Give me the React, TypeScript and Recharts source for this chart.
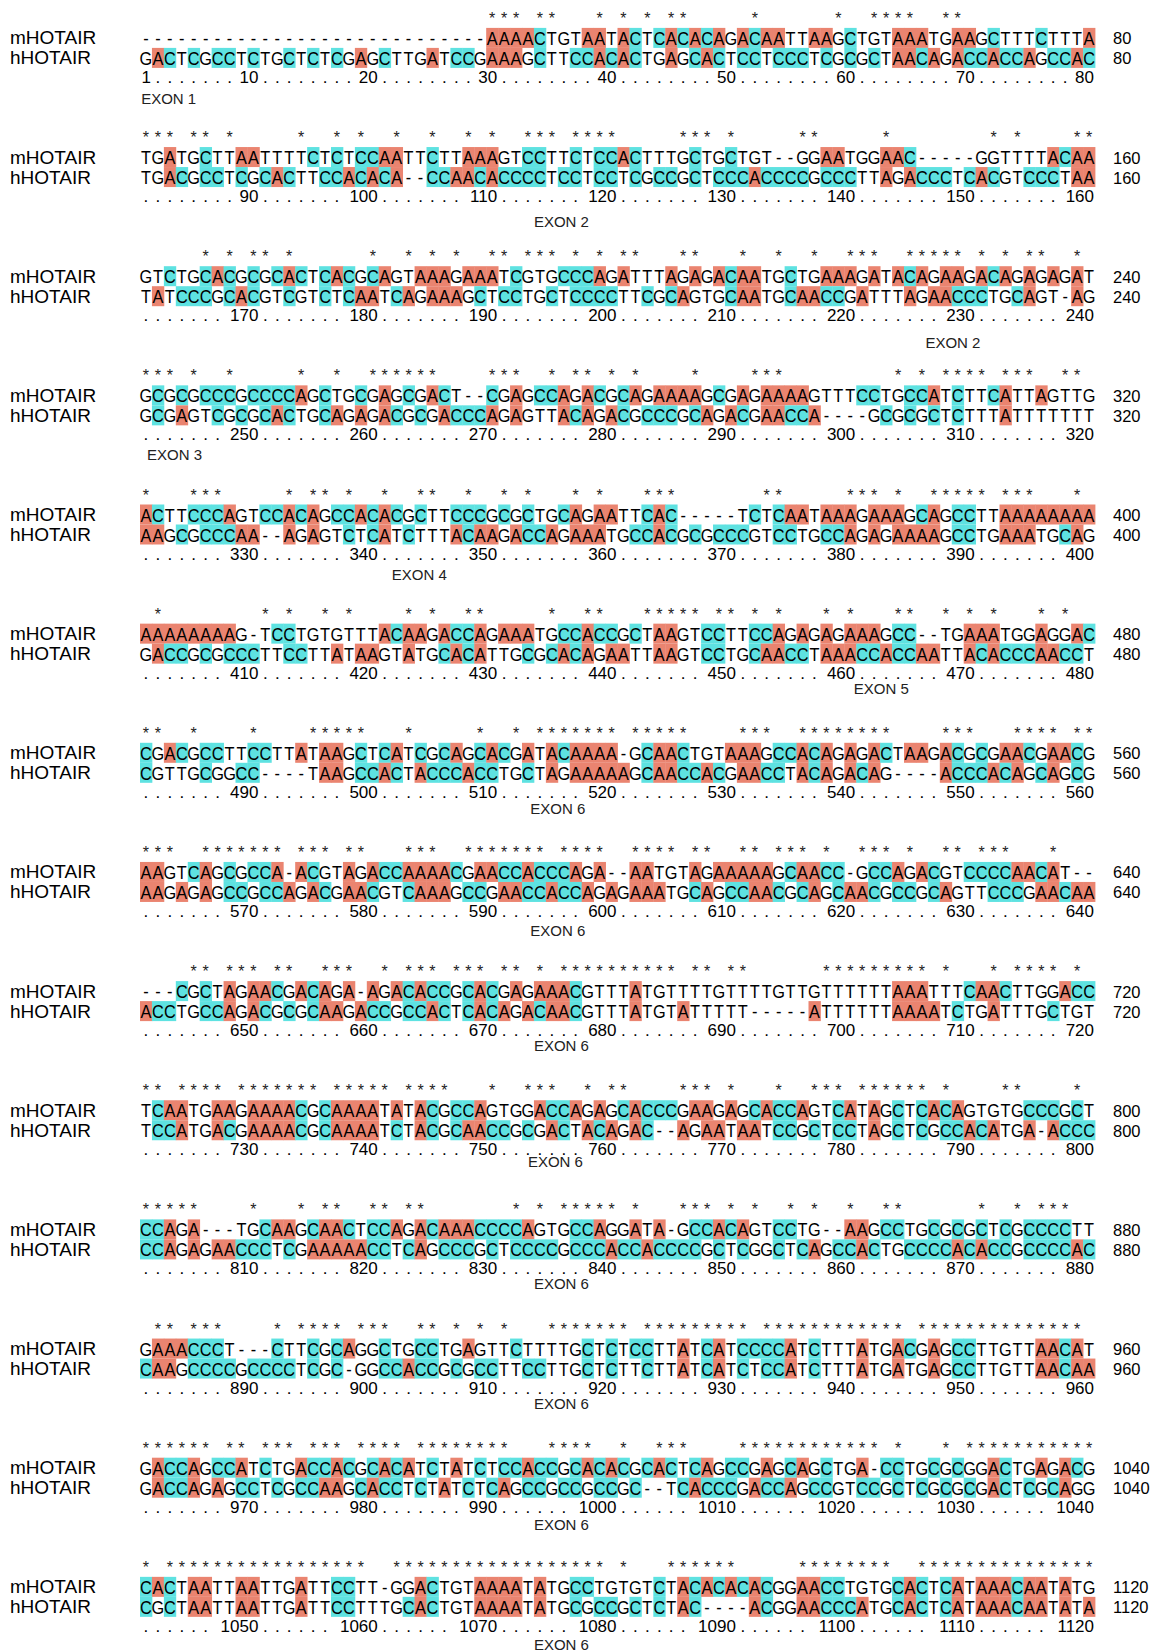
import React from 'react';
import { ScatterChart, Scatter, XAxis, YAxis } from 'recharts';

// alignment rows, 80 columns per block
const M_SEQ = [
  '-----------------------------AAAACTGTAATACTCACACAGACAATTAAGCTGTAAATGAAGCTTTCTTTA',
  'TGATGCTTAATTTTCTCTCCAATTCTTAAAGTCCTTCTCCACTTTGCTGCTGT--GGAATGGAAC-----GGTTTTACAA',
  'GTCTGCACGCGCACTCACGCAGTAAAGAAATCGTGCCCAGATTTAGAGACAATGCTGAAAGATACAGAAGACAGAGAGAT',
  'GCGCGCCCGCCCCAGCTGCGAGCGACT--CGAGCCAGACGCAGAAAAGCGAGAAAAGTTTCCTGCCATCTTCATTAGTTG',
  'ACTTCCCAGTCCACAGCCACACGCTTCCCGCGCTGCAGAATTCAC-----TCTCAATAAAGAAAGCAGCCTTAAAAAAAA',
  'AAAAAAAAG-TCCTGTGTTTACAAGACCAGAAATGCCACCGCTAAGTCCTTCCAGAGAGAAAGCC--TGAAATGGAGGAC',
  'CGACGCCTTCCTTATAAGCTCATCGCAGCACGATACAAAA-GCAACTGTAAAGCCACAGAGACTAAGACGCGAACGAACG',
  'AAGTCAGCGCCA-ACGTAGACCAAAACGAACCACCCAGA--AATGTAGAAAAAGCAACC-GCCAGACGTCCCCAACAT--',
  '---CGCTAGAACGACAGA-AGACACCGCACGAGAAACGTTTATGTTTTGTTTTGTTGTTTTTTAAATTTCAACTTGGACC',
  'TCAATGAAGAAAACGCAAAATATACGCCAGTGGACCAGAGCACCCGAAGAGCACCAGTCATAGCTCACAGTGTGCCCGCT',
  'CCAGA---TGCAAGCAACTCCAGACAAACCCCAGTGCCAGGATA-GCCACAGTCCTG--AAGCCTGCGCGCTCGCCCCTT',
  'GAAACCCT---CTTCGCAGGCTGCCTGAGTTCTTTTGCTCTCCTTATCATCCCCATCTTTATGACGAGCCTTGTTAACAT',
  'GACCAGCCATCTGACCACGCACATCTATCTCCACCGCACACGCACTCAGCCGAGCAGCTGA-CCTGCGCGGACTGAGACG',
  'CACTAATTAATTGATTCCTT-GGACTGTAAAATATGCCTGTGTCTACACACACGGAACCTGTGCACTCATAAACAATATG',
];

const H_SEQ = [
  'GACTCGCCTCTGCTCTCGAGCTTGATCCGAAAGCTTCCACACTGAGCACTCCTCCCTCGCGCTAACAGACCACCAGCCAC',
  'TGACGCCTCGCACTTCCACACA--CCAACACCCCTCCTCCTCGCCGCTCCCACCCCGCCCTTAGACCCTCACGTCCCTAA',
  'TATCCCGCACGTCGTCTCAATCAGAAAGCTCCTGCTCCCCTTCGCAGTGCAATGCAACCGATTTAGAACCCTGCAGT-AG',
  'GCGAGTCGCGCACTGCAGAGACGCGACCCAGAGTTACAGACGCCCGCAGACGAACCA----GCGCGCTCTTTATTTTTTT',
  'AAGCGCCCAA--AGAGTCTCATCTTTACAAGACCAGAAATGCCACGCGCCCGTCCTGCCAGAGAAAAGCCTGAAATGCAG',
  'GACCGCGCCCTTCCTTATAAGTATGCACATTGCGCACAGAATTAAGTCCTGCAACCTAAACCACCAATTACACCCAACCT',
  'CGTTGCGGCC----TAAGCCACTACCCACCTGCTAGAAAAAGCAACCACGAACCTACAGACAG----ACCCACAGCAGCG',
  'AAGAGAGCCGCCAGACGAACGTCAAAGCCGAACCACCAGAGAAATGCAGCCAACGCAGCAACGCCGCAGTTCCCGAACAA',
  'ACCTGCCAGACGCGCAAGACCGCCACTCACAGACAACGTTTATGTATTTTT-----ATTTTTTAAAATCTGATTTGCTGT',
  'TCCATGACGAAAACGCAAAATCTACGCAACCGCGACTACAGAC--AGAATAATCCGCTCCTAGCTCGCCACATGA-ACCC',
  'CCAGAGAACCCTCGAAAAACCTCAGCCCGCTCCCCGCCCACCACCCCGCTCGGCTCAGCCACTGCCCCACACCGCCCCAC',
  'CAAGCCCCGCCCCTCGC-GGCCACCGCGCCTTCCTTGCTCTTCTTATCATCTCCATCTTTATGATGAGCCTTGTTAACAA',
  'GACCAGAGCCTCGCCAAGCACCTCTATCTCAGCCGCCGCCGC--TCACCCGACCAGCCGTCCGCTCGCGCGACTCGCAGG',
  'CGCTAATTAATTGATTCCTTTGCACTGTAAAATATGCGCCGCTCTAC----ACGGAACCCATGCACTCATAAACAATATA',
];

// columns carrying a conservation star, per block
const STAR_COLS = [
  [30, 31, 32, 34, 35, 39, 41, 43, 45, 46, 52, 59, 62, 63, 64, 65, 68, 69],
  [1, 2, 3, 5, 6, 8, 14, 17, 19, 22, 25, 28, 30, 33, 34, 35, 37, 38, 39, 40, 46, 47, 48, 50, 56, 57, 63, 72, 74, 79, 80],
  [6, 8, 10, 11, 13, 20, 23, 25, 27, 30, 31, 33, 34, 35, 37, 39, 41, 42, 46, 47, 51, 54, 57, 60, 61, 62, 65, 66, 67, 68, 69, 71, 73, 75, 76, 79],
  [1, 2, 3, 5, 8, 14, 17, 20, 21, 22, 23, 24, 25, 30, 31, 32, 35, 37, 38, 40, 42, 47, 52, 53, 54, 64, 66, 68, 69, 70, 71, 73, 74, 75, 78, 79],
  [1, 5, 6, 7, 13, 15, 16, 18, 21, 24, 25, 28, 31, 33, 37, 39, 43, 44, 45, 53, 54, 60, 61, 62, 64, 67, 68, 69, 70, 71, 73, 74, 75, 79],
  [2, 11, 13, 16, 18, 23, 25, 28, 29, 35, 38, 39, 43, 44, 45, 46, 47, 49, 50, 52, 54, 58, 60, 64, 65, 68, 70, 72, 76, 78],
  [1, 2, 5, 10, 15, 16, 17, 18, 19, 23, 29, 32, 34, 35, 36, 37, 38, 39, 40, 42, 43, 44, 45, 46, 51, 52, 53, 56, 57, 58, 59, 60, 61, 62, 63, 68, 69, 70, 74, 75, 76, 77, 79, 80],
  [1, 2, 3, 6, 7, 8, 9, 10, 11, 12, 14, 15, 16, 18, 19, 23, 24, 25, 28, 29, 30, 31, 32, 33, 34, 36, 37, 38, 39, 42, 43, 44, 45, 47, 48, 51, 52, 54, 55, 56, 58, 61, 62, 63, 65, 68, 69, 71, 72, 73, 77],
  [5, 6, 8, 9, 10, 12, 13, 16, 17, 18, 21, 23, 24, 25, 27, 28, 29, 31, 32, 34, 36, 37, 38, 39, 40, 41, 42, 43, 44, 45, 47, 48, 50, 51, 58, 59, 60, 61, 62, 63, 64, 65, 66, 68, 72, 74, 75, 76, 77, 79],
  [1, 2, 4, 5, 6, 7, 9, 10, 11, 12, 13, 14, 15, 17, 18, 19, 20, 21, 23, 24, 25, 26, 30, 33, 34, 35, 38, 40, 41, 46, 47, 48, 50, 54, 57, 58, 59, 61, 62, 63, 64, 65, 66, 68, 73, 74, 79],
  [1, 2, 3, 4, 5, 10, 14, 16, 17, 20, 21, 23, 24, 32, 34, 36, 37, 38, 39, 40, 42, 46, 47, 48, 50, 52, 55, 57, 60, 63, 64, 71, 74, 76, 77, 78],
  [2, 3, 5, 6, 7, 12, 14, 15, 16, 17, 19, 20, 21, 24, 25, 27, 29, 31, 35, 36, 37, 38, 39, 40, 41, 43, 44, 45, 46, 47, 48, 49, 50, 51, 53, 54, 55, 56, 57, 58, 59, 60, 61, 62, 63, 64, 66, 67, 68, 69, 70, 71, 72, 73, 74, 75, 76, 77, 78, 79],
  [1, 2, 3, 4, 5, 6, 8, 9, 11, 12, 13, 15, 16, 17, 19, 20, 21, 22, 24, 25, 26, 27, 28, 29, 30, 31, 35, 36, 37, 38, 41, 44, 45, 46, 51, 52, 53, 54, 55, 56, 57, 58, 59, 60, 61, 62, 64, 68, 70, 71, 72, 73, 74, 75, 76, 77, 78, 79, 80],
  [1, 3, 4, 5, 6, 7, 8, 9, 10, 11, 12, 13, 14, 15, 16, 17, 18, 19, 22, 23, 24, 25, 26, 27, 28, 29, 30, 31, 32, 33, 34, 35, 36, 37, 38, 39, 41, 45, 46, 47, 48, 49, 50, 56, 57, 58, 59, 60, 61, 62, 63, 66, 67, 68, 69, 70, 71, 72, 73, 74, 75, 76, 77, 78, 79, 80],
];

const SEQ_NAMES = ['mHOTAIR', 'hHOTAIR'];

// exon annotations: block, label, column (centre), row below the top sequence
const EXON_BLOCK = [0, 1, 2, 3, 4, 5, 6, 7, 8, 9, 10, 11, 12, 13];
const EXON_TEXT = ['EXON 1', 'EXON 2', 'EXON 2', 'EXON 3', 'EXON 4', 'EXON 5', 'EXON 6', 'EXON 6', 'EXON 6', 'EXON 6', 'EXON 6', 'EXON 6', 'EXON 6', 'EXON 6'];
const EXON_COL = [2.9, 35.8, 68.6, 3.4, 23.9, 62.6, 35.5, 35.5, 35.8, 35.3, 35.8, 35.8, 35.8, 35.8];
const EXON_ROW = [3.05, 3.2, 3.3, 2.95, 3.0, 2.75, 2.8, 2.95, 2.7, 2.55, 2.7, 2.75, 2.85, 2.9];

const COLS = 80;
const W = 1152;
const H = 1651;
const COL_W = 11.9375;
const ROW_PX = 20;
const X_MIN = 0.5 - 140 / COL_W;
const X_MAX = X_MIN + W / COL_W;
const Y_MIN = -37.9 / ROW_PX;
const Y_MAX = Y_MIN + H / ROW_PX;
const BLOCK_ROWS = 5.9575;
const STAR_ROW = -1.15;
const RULER_ROW = 1.95;
const NAME_COL = 0.5 - 130 / COL_W;
const END_COL = 0.5 + 973 / COL_W;

const ORANGE = '#EA8470';
const CYAN = '#5EE2E1';
const FONT = '"Liberation Sans", Arial, sans-serif';

const seqPoints: any[] = [];
[M_SEQ, H_SEQ].forEach((rows, r) => {
  rows.forEach((s, b) => {
    s.padEnd(COLS, '-').slice(0, COLS).split('').forEach((ch, i) => {
      seqPoints.push({ x: i + 1, y: b * BLOCK_ROWS + r, ch });
    });
  });
});

const starPoints: any[] = [];
STAR_COLS.forEach((cols, b) => cols.forEach((c) => starPoints.push({ x: c, y: b * BLOCK_ROWS + STAR_ROW })));

const rulerPoints: any[] = [];
M_SEQ.forEach((_, b) => {
  const covered = new Set<number>();
  for (let c = 1; c <= COLS; c++) {
    const pos = b * COLS + c;
    if (pos % 10 === 0 || pos === 1) {
      const t = String(pos);
      rulerPoints.push({ x: c + 0.5, y: b * BLOCK_ROWS + RULER_ROW, t, num: true });
      for (let k = 0; k < t.length; k++) covered.add(c - k);
    }
  }
  for (let c = 1; c <= COLS; c++) {
    if (!covered.has(c)) rulerPoints.push({ x: c, y: b * BLOCK_ROWS + RULER_ROW, t: '.', num: false });
  }
});

const labelPoints: any[] = [];
M_SEQ.forEach((_, b) => {
  [0, 1].forEach((r) => {
    labelPoints.push({ x: NAME_COL, y: b * BLOCK_ROWS + r, t: SEQ_NAMES[r], size: 19 });
    labelPoints.push({ x: END_COL, y: b * BLOCK_ROWS + r, t: String((b + 1) * COLS), size: 16.5 });
  });
});

const exonPoints = EXON_BLOCK.map((b, i) => ({ x: EXON_COL[i], y: b * BLOCK_ROWS + EXON_ROW[i], t: EXON_TEXT[i] }));

const cellShape = (p: any) => {
  const ch = p.payload.ch;
  const fill = ch === 'A' ? ORANGE : ch === 'C' ? CYAN : null;
  if (!fill) return <g />;
  return <rect x={p.cx - COL_W / 2} y={p.cy - 10} width={COL_W + 0.4} height={20} fill={fill} />;
};

const letterShape = (p: any) => (
  <text
    transform={`translate(${p.cx},${p.cy + 7}) scale(0.86,1)`}
    textAnchor="middle"
    fontSize={19}
    fontFamily={FONT}
    fill="#000"
  >
    {p.payload.ch}
  </text>
);

const starShape = (p: any) => (
  <text x={p.cx} y={p.cy + 9} textAnchor="middle" fontSize={16} fontFamily={FONT} fill="#222">
    *
  </text>
);

const rulerShape = (p: any) => (
  <text
    x={p.payload.num ? p.cx - 1 : p.cx}
    y={p.cy + 6}
    textAnchor={p.payload.num ? 'end' : 'middle'}
    fontSize={17}
    fontFamily={FONT}
    fill="#000"
  >
    {p.payload.t}
  </text>
);

const labelShape = (p: any) => (
  <text x={p.cx} y={p.cy + 6.5} textAnchor="start" fontSize={p.payload.size} fontFamily={FONT} fill="#000">
    {p.payload.t}
  </text>
);

const exonShape = (p: any) => (
  <text x={p.cx} y={p.cy + 5.5} textAnchor="middle" fontSize={15} fontFamily={FONT} fill="#222">
    {p.payload.t}
  </text>
);

export default function App() {
  return (
    <div style={{ position: 'absolute', left: 0, top: 0, width: W, height: H, background: '#fff' }}>
      <ScatterChart width={W} height={H} margin={{ top: 0, right: 0, bottom: 0, left: 0 }}>
        <XAxis type="number" dataKey="x" domain={[X_MIN, X_MAX]} hide />
        <YAxis type="number" dataKey="y" domain={[Y_MIN, Y_MAX]} reversed hide />
        <Scatter data={seqPoints} shape={cellShape} isAnimationActive={false} />
        <Scatter data={seqPoints} shape={letterShape} isAnimationActive={false} />
        <Scatter data={starPoints} shape={starShape} isAnimationActive={false} />
        <Scatter data={rulerPoints} shape={rulerShape} isAnimationActive={false} />
        <Scatter data={labelPoints} shape={labelShape} isAnimationActive={false} />
        <Scatter data={exonPoints} shape={exonShape} isAnimationActive={false} />
      </ScatterChart>
    </div>
  );
}
